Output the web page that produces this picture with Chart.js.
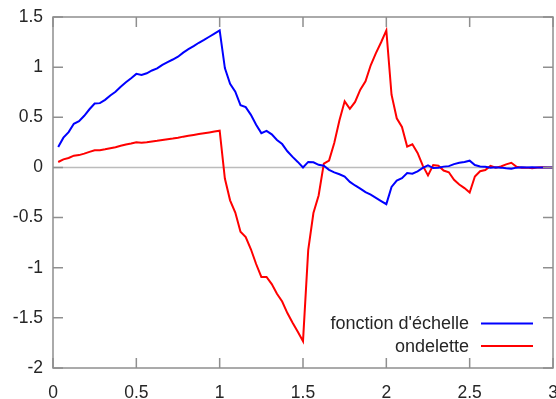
<!DOCTYPE html>
<html>
<head>
<meta charset="utf-8">
<script src="https://cdn.jsdelivr.net/npm/chart.js@4"></script>
<style>
  html, body { margin: 0; padding: 0; background: #fff; }
  canvas { display: block; }
</style>
</head>
<body>
<canvas id="chart" width="556" height="399"></canvas>
<script>
// sample positions (x)
const xs = [
  0.03125, 0.0625, 0.09375, 0.125, 0.15625, 0.1875, 0.21875, 0.25,
  0.28125, 0.3125, 0.34375, 0.375, 0.40625, 0.4375, 0.46875, 0.5,
  0.53125, 0.5625, 0.59375, 0.625, 0.65625, 0.6875, 0.71875, 0.75,
  0.78125, 0.8125, 0.84375, 0.875, 0.90625, 0.9375, 0.96875, 1,
  1.03125, 1.0625, 1.09375, 1.125, 1.15625, 1.1875, 1.21875, 1.25,
  1.28125, 1.3125, 1.34375, 1.375, 1.40625, 1.4375, 1.46875, 1.5,
  1.53125, 1.5625, 1.59375, 1.625, 1.65625, 1.6875, 1.71875, 1.75,
  1.78125, 1.8125, 1.84375, 1.875, 1.90625, 1.9375, 1.96875, 2,
  2.03125, 2.0625, 2.09375, 2.125, 2.15625, 2.1875, 2.21875, 2.25,
  2.28125, 2.3125, 2.34375, 2.375, 2.40625, 2.4375, 2.46875, 2.5,
  2.53125, 2.5625, 2.59375, 2.625, 2.65625, 2.6875, 2.71875, 2.75,
  2.78125, 2.8125, 2.84375, 2.875, 2.90625, 2.9375, 2.96875, 3
];

// fonction d'échelle
const scaling = [
  0.203, 0.297, 0.352, 0.435, 0.461, 0.515, 0.580, 0.637,
  0.641, 0.674, 0.718, 0.754, 0.805, 0.849, 0.890, 0.933,
  0.921, 0.939, 0.967, 0.987, 1.023, 1.051, 1.076, 1.104,
  1.145, 1.179, 1.210, 1.243, 1.272, 1.303, 1.335, 1.366,
  0.991, 0.834, 0.756, 0.621, 0.601, 0.524, 0.425, 0.342,
  0.365, 0.330, 0.274, 0.233, 0.161, 0.105, 0.055, 0,
  0.055, 0.051, 0.026, 0.017, -0.024, -0.049, -0.068, -0.092,
  -0.144, -0.180, -0.211, -0.246, -0.272, -0.303, -0.335, -0.366,
  -0.194, -0.131, -0.108, -0.056, -0.062, -0.039, -0.005, 0.021,
  -0.006, -0.004, 0.008, 0.013, 0.033, 0.046, 0.055, 0.067,
  0.024, 0.010, 0.007, -0.004, 0.001, -0.002, -0.008, -0.012,
  -0.002, 0.001, 0.000, 0.002, 0.000, 0.000, 0.000, 0
];

// ondelette
const wavelet = [
  0.054, 0.080, 0.094, 0.117, 0.123, 0.138, 0.155, 0.171,
  0.172, 0.181, 0.192, 0.202, 0.216, 0.228, 0.238, 0.250,
  0.247, 0.252, 0.259, 0.265, 0.274, 0.282, 0.288, 0.296,
  0.307, 0.316, 0.324, 0.333, 0.341, 0.349, 0.358, 0.366,
  -0.111, -0.328, -0.450, -0.642, -0.694, -0.816, -0.963, -1.092,
  -1.092, -1.163, -1.259, -1.337, -1.452, -1.548, -1.638, -1.732,
  -0.825, -0.455, -0.280, 0.038, 0.069, 0.243, 0.470, 0.659,
  0.584, 0.653, 0.775, 0.858, 1.019, 1.140, 1.248, 1.366,
  0.725, 0.490, 0.403, 0.208, 0.231, 0.144, 0.018, -0.079,
  0.023, 0.016, -0.031, -0.048, -0.124, -0.170, -0.206, -0.250,
  -0.090, -0.038, -0.026, 0.015, -0.003, 0.009, 0.031, 0.046,
  0.007, -0.003, -0.002, -0.008, 0.000, 0.002, 0.000, 0
];

const xTicks = [0, 0.5, 1, 1.5, 2, 2.5, 3];
const yTicks = [-2, -1.5, -1, -0.5, 0, 0.5, 1, 1.5];

const FONT = '"Liberation Sans", Arial, sans-serif';
const TEXT = '#262626';
const FRAME = '#8f8f8f';

const toPoints = ys => xs.map((x, i) => ({ x, y: ys[i] }));
const plainLabel = v => String(Number(v.toFixed(2)));

// frame, inward ticks, zero line and legend (gnuplot look)
const frame = {
  id: 'frame',
  beforeDatasetsDraw(chart) {
    const { ctx, chartArea: a, scales: { y } } = chart;
    const y0 = y.getPixelForValue(0);
    ctx.save();
    ctx.strokeStyle = '#bcbcbc';
    ctx.lineWidth = 1.5;
    ctx.beginPath();
    ctx.moveTo(a.left, y0);
    ctx.lineTo(a.right, y0);
    ctx.stroke();
    ctx.restore();
  },
  afterDraw(chart) {
    const { ctx, chartArea: a, scales: { x, y } } = chart;
    const tl = 10;
    ctx.save();
    ctx.strokeStyle = FRAME;
    ctx.lineWidth = 1.5;
    ctx.beginPath();
    xTicks.forEach(v => {
      const px = x.getPixelForValue(v);
      ctx.moveTo(px, a.bottom); ctx.lineTo(px, a.bottom - tl);
      ctx.moveTo(px, a.top); ctx.lineTo(px, a.top + tl);
    });
    yTicks.forEach(v => {
      const py = y.getPixelForValue(v);
      ctx.moveTo(a.left, py); ctx.lineTo(a.left + tl, py);
      ctx.moveTo(a.right, py); ctx.lineTo(a.right - tl, py);
    });
    ctx.stroke();
    ctx.strokeRect(a.left, a.top, a.right - a.left, a.bottom - a.top);

    // legend
    const rows = [a.bottom - 44.5, a.bottom - 22];
    ctx.font = '18px ' + FONT;
    ctx.textAlign = 'right';
    ctx.textBaseline = 'middle';
    chart.data.datasets.forEach((ds, i) => {
      const yy = rows[i];
      ctx.fillStyle = TEXT;
      ctx.fillText(ds.label, a.right - 84, yy + 1);
      ctx.strokeStyle = ds.borderColor;
      ctx.lineWidth = 2;
      ctx.beginPath();
      ctx.moveTo(a.right - 72, yy);
      ctx.lineTo(a.right - 20, yy);
      ctx.stroke();
    });
    ctx.restore();
  }
};

new Chart(document.getElementById('chart'), {
  type: 'line',
  data: {
    datasets: [
      {
        label: "fonction d'échelle",
        data: toPoints(scaling),
        borderColor: '#0000ff',
        borderWidth: 2,
        pointRadius: 0,
        tension: 0
      },
      {
        label: 'ondelette',
        data: toPoints(wavelet),
        borderColor: '#ff0000',
        borderWidth: 2,
        pointRadius: 0,
        tension: 0
      }
    ]
  },
  options: {
    responsive: false,
    animation: false,
    layout: { padding: { top: 17, right: 3, left: 0, bottom: 0 } },
    plugins: { legend: { display: false }, tooltip: { enabled: false } },
    scales: {
      x: {
        type: 'linear',
        min: 0,
        max: 3,
        grid: { display: false, drawTicks: false },
        border: { display: false },
        ticks: {
          stepSize: 0.5,
          padding: 15,
          color: TEXT,
          font: { family: FONT, size: 17.5 },
          maxRotation: 0,
          callback: plainLabel
        },
        afterFit(scale) {
          scale.height = 31;
          scale.paddingLeft = 0;
          scale.paddingRight = 0;
        }
      },
      y: {
        min: -2,
        max: 1.5,
        grid: { display: false, drawTicks: false },
        border: { display: false },
        ticks: {
          stepSize: 0.5,
          padding: 10,
          color: TEXT,
          font: { family: FONT, size: 17.5 },
          callback: plainLabel
        },
        afterFit(scale) {
          scale.width = 53;
          scale.paddingTop = 0;
          scale.paddingBottom = 0;
        }
      }
    }
  },
  plugins: [frame]
});
</script>
</body>
</html>
